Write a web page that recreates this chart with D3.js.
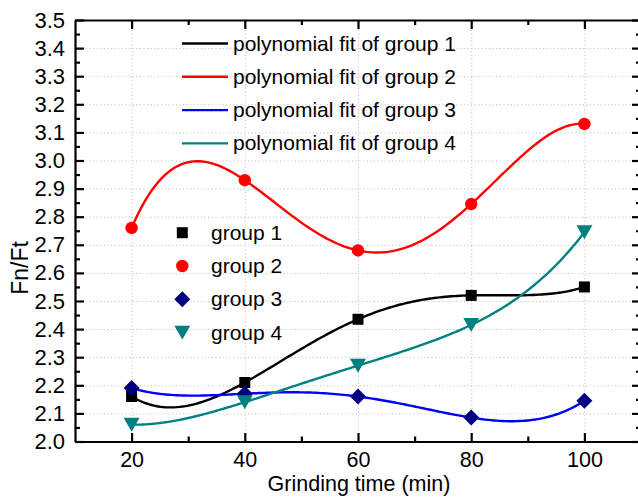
<!DOCTYPE html>
<html>
<head>
<meta charset="utf-8">
<script src="https://cdn.jsdelivr.net/npm/d3@7"></script>
<style>
  html, body { margin: 0; padding: 0; background: #fff; }
  svg { display: block; }
  text { font-family: "Liberation Sans", Arial, sans-serif; fill: #000; }
</style>
</head>
<body>
<svg id="chart" width="638" height="497"></svg>
<script>
// ---------------- data ----------------
const grindTime = [20, 40, 60, 80, 100];
const group1 = [2.16, 2.21, 2.435, 2.52, 2.55];
const group2 = [2.76, 2.93, 2.68, 2.845, 3.13];
const group3 = [2.19, 2.17, 2.16, 2.085, 2.145];
const group4 = [2.06, 2.14, 2.27, 2.415, 2.745];

const xTickValues = [20, 40, 60, 80, 100];
const xMinorValues = [30, 50, 70, 90];
const yTickLabels = ["2.0","2.1","2.2","2.3","2.4","2.5","2.6","2.7","2.8","2.9","3.0","3.1","3.2","3.3","3.4","3.5"];
const yMinorLabels = ["2.05","2.15","2.25","2.35","2.45","2.55","2.65","2.75","2.85","2.95","3.05","3.15","3.25","3.35","3.45"];

const fitLegendLabels = ["polynomial fit of group 1", "polynomial fit of group 2", "polynomial fit of group 3", "polynomial fit of group 4"];
const groupLegendLabels = ["group 1", "group 2", "group 3", "group 4"];

const xLabel = "Grinding time (min)";
const yLabel = "Fn/Ft";

// ---------------- styles ----------------
const lineColors = ["#000000", "#ff0000", "#0000ff", "#008080"];
const markerColors = ["#000000", "#ff0000", "#000080", "#008080"];

const series = [group1, group2, group3, group4];

// ---------------- layout ----------------
const svg = d3.select("#chart");
svg.append("rect").attr("width", 638).attr("height", 497).attr("fill", "#fff");

const x = d3.scaleLinear().domain([10, 110]).range([75, 641]);
const y = d3.scaleLinear().domain([2.0, 3.5]).range([441.5, 20]);

const yMajor = yTickLabels.map(Number);
const yMinor = yMinorLabels.map(Number);

// grid
const grid = svg.append("g");
grid.append("g")
  .attr("transform", `translate(0,${y(2.0)})`)
  .call(d3.axisBottom(x).tickValues(xTickValues).tickSize(-(y(2.0) - y(3.5))).tickFormat(""))
  .call(g => g.select(".domain").remove())
  .call(g => g.selectAll("line").attr("stroke", "#c4c4c4").attr("stroke-width", 1).attr("stroke-dasharray", "1.2,2.4"));
grid.append("g")
  .attr("transform", `translate(${x(10)},0)`)
  .call(d3.axisLeft(y).tickValues(yMajor.slice(1, -1)).tickSize(-(x(110) - x(10))).tickFormat(""))
  .call(g => g.select(".domain").remove())
  .call(g => g.selectAll("line").attr("stroke", "#c4c4c4").attr("stroke-width", 1).attr("stroke-dasharray", "1.2,2.4"));

// polynomial fit (degree 4, least squares) on normalised t
function polyFit(xs, ys, deg) {
  const n = deg + 1;
  const A = Array.from({length: n}, () => new Array(n + 1).fill(0));
  xs.forEach((xv, k) => {
    const t = (xv - 60) / 20;
    for (let i = 0; i < n; i++) {
      for (let j = 0; j < n; j++) A[i][j] += Math.pow(t, i + j);
      A[i][n] += ys[k] * Math.pow(t, i);
    }
  });
  for (let c = 0; c < n; c++) {
    let p = c;
    for (let r = c + 1; r < n; r++) if (Math.abs(A[r][c]) > Math.abs(A[p][c])) p = r;
    [A[c], A[p]] = [A[p], A[c]];
    for (let r = 0; r < n; r++) {
      if (r === c) continue;
      const f = A[r][c] / A[c][c];
      for (let k = c; k <= n; k++) A[r][k] -= f * A[c][k];
    }
  }
  const coef = A.map((row, i) => row[n] / row[i]);
  return xv => {
    const t = (xv - 60) / 20;
    return coef.reduce((s, cf, i) => s + cf * Math.pow(t, i), 0);
  };
}

const sampleX = d3.range(20, 100.001, 0.5);
const lineGen = d3.line().x(d => x(d[0])).y(d => y(d[1]));

const curves = svg.append("g");
series.forEach((vals, i) => {
  const f = polyFit(grindTime, vals, 4);
  curves.append("path")
    .attr("d", lineGen(sampleX.map(xv => [xv, f(xv)])))
    .attr("fill", "none")
    .attr("stroke", lineColors[i])
    .attr("stroke-width", 2.4);
});

// markers
const symbolDefs = [
  {type: d3.symbolSquare, size: 121, rot: 0, dy: 0},
  {type: d3.symbolCircle, size: 121, rot: 0, dy: 0},
  {type: d3.symbolSquare, size: 128, rot: 45, dy: 0},
  {type: d3.symbolTriangle, size: 110, rot: 180, dy: -2.2}
];
function drawMarker(g, i, cx, cy) {
  const s = symbolDefs[i];
  g.append("path")
    .attr("d", d3.symbol().type(s.type).size(s.size)())
    .attr("transform", `translate(${cx},${cy + s.dy}) rotate(${s.rot})`)
    .attr("fill", markerColors[i]);
}
const marks = svg.append("g");
series.forEach((vals, i) => {
  vals.forEach((v, k) => drawMarker(marks, i, x(grindTime[k]), y(v)));
});

// axes
const axisStyle = g => {
  g.select(".domain").attr("stroke", "#000").attr("stroke-width", 2.2);
  g.selectAll(".tick line").attr("stroke", "#000").attr("stroke-width", 2.2);
};

// bottom
svg.append("g").attr("transform", `translate(0,${y(2.0)})`)
  .call(d3.axisBottom(x).tickValues(xTickValues).tickSizeInner(-8.5).tickSizeOuter(0).tickPadding(10.5))
  .call(axisStyle)
  .call(g => g.selectAll("text").attr("font-size", 21.5).attr("font-family", "Liberation Sans, Arial, sans-serif").attr("fill", "#000"));
svg.append("g").attr("transform", `translate(0,${y(2.0)})`)
  .call(d3.axisBottom(x).tickValues(xMinorValues).tickSizeInner(-5).tickSizeOuter(0).tickFormat(""))
  .call(axisStyle).call(g => g.select(".domain").remove());
// top
svg.append("g").attr("transform", `translate(0,${y(3.5)})`)
  .call(d3.axisTop(x).tickValues(xTickValues).tickSizeInner(-9).tickSizeOuter(0).tickFormat(""))
  .call(axisStyle);
svg.append("g").attr("transform", `translate(0,${y(3.5)})`)
  .call(d3.axisTop(x).tickValues(xMinorValues).tickSizeInner(-5).tickSizeOuter(0).tickFormat(""))
  .call(axisStyle).call(g => g.select(".domain").remove());
// left
svg.append("g").attr("transform", `translate(${x(10)},0)`)
  .call(d3.axisLeft(y).tickValues(yMajor).tickSizeInner(-9).tickSizeOuter(0).tickPadding(10).tickFormat((d, i) => yTickLabels[i]))
  .call(axisStyle)
  .call(g => g.selectAll("text").attr("font-size", 22).attr("font-family", "Liberation Sans, Arial, sans-serif").attr("fill", "#000"));
svg.append("g").attr("transform", `translate(${x(10)},0)`)
  .call(d3.axisLeft(y).tickValues(yMinor).tickSizeInner(-5).tickSizeOuter(0).tickFormat(""))
  .call(axisStyle).call(g => g.select(".domain").remove());
// right
svg.append("g").attr("transform", `translate(${x(110)},0)`)
  .call(d3.axisRight(y).tickValues(yMajor).tickSizeInner(-9).tickSizeOuter(0).tickFormat(""))
  .call(axisStyle);
svg.append("g").attr("transform", `translate(${x(110)},0)`)
  .call(d3.axisRight(y).tickValues(yMinor).tickSizeInner(-5).tickSizeOuter(0).tickFormat(""))
  .call(axisStyle).call(g => g.select(".domain").remove());

// axis titles
svg.append("text")
  .attr("x", 359).attr("y", 491)
  .attr("text-anchor", "middle")
  .attr("font-size", 21.5)
  .text(xLabel);
svg.append("text")
  .attr("transform", "translate(28,268) rotate(-90)")
  .attr("text-anchor", "middle")
  .attr("font-size", 23)
  .text(yLabel);

// legend 1: fit lines
const leg1 = svg.append("g");
fitLegendLabels.forEach((lab, i) => {
  const cy = 43.5 + i * 33.3;
  leg1.append("line").attr("x1", 182).attr("x2", 228).attr("y1", cy).attr("y2", cy)
    .attr("stroke", lineColors[i]).attr("stroke-width", 2.4);
  leg1.append("text").attr("x", 233).attr("y", cy + 7).attr("font-size", 21).text(lab);
});

// legend 2: markers
const leg2 = svg.append("g");
groupLegendLabels.forEach((lab, i) => {
  const cy = 232.7 + i * 33.3;
  drawMarker(leg2, i, 182.3, cy);
  leg2.append("text").attr("x", 211).attr("y", cy + 7).attr("font-size", 21).text(lab);
});
</script>
</body>
</html>
